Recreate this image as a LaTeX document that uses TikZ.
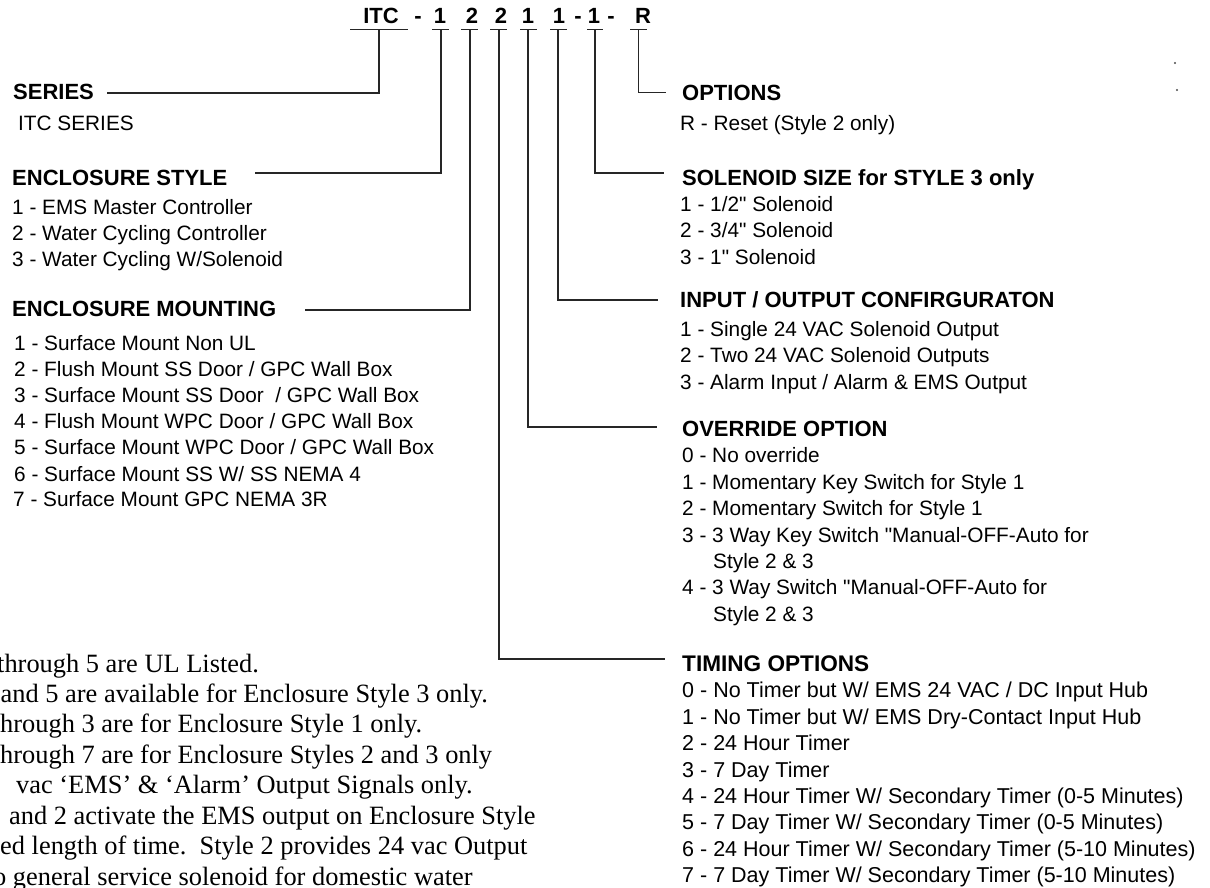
\documentclass[tikz,border=0pt]{standalone}
\usepackage{fontspec}
\setmainfont{Liberation Sans}
\newfontfamily\sansplain{Liberation Sans}
\newfontfamily\serifnote{Liberation Serif}[Ligatures=TeX]
\tikzset{
  conn/.style={line width=1.4pt, draw=black!85, line cap=butt},
  hdr/.style={font=\sansplain\fontsize{22}{26}\selectfont\bfseries, inner sep=0pt, anchor=base},
  ttl/.style={font=\sansplain\fontsize{22}{26}\selectfont\bfseries, inner sep=0pt, anchor=base west},
  itm/.style={font=\sansplain\fontsize{20.8}{26}\selectfont, inner sep=0pt, anchor=base west},
  ttlbig/.style={font=\sansplain\fontsize{22.6}{26}\selectfont\bfseries, inner sep=0pt, anchor=base west},
  itmbig/.style={font=\sansplain\fontsize{21.5}{26}\selectfont, inner sep=0pt, anchor=base west},
  note/.style={font=\serifnote\fontsize{26.4}{30}\selectfont, inner sep=0pt, anchor=base west},
}
\begin{document}
\begin{tikzpicture}[x=1pt, y=-1pt]
\path[use as bounding box, clip] (0,0) rectangle (1210,888);
\fill[white] (0,0) rectangle (1210,888);

% ---------- header code ----------
\node[hdr] (hITC) at (381,23.5) {ITC};
\node[hdr] (hd1)  at (418,23.5) {-};
\node[hdr] (h1)   at (440,23.5) {1};
\node[hdr] (h2)   at (472,23.5) {2};
\node[hdr] (h3)   at (501,23.5) {2};
\node[hdr] (h4)   at (528,23.5) {1};
\node[hdr] (h5)   at (559,23.5) {1};
\node[hdr] (hd2)  at (578,23.5) {-};
\node[hdr] (h6)   at (594,23.5) {1};
\node[hdr] (hd3)  at (611,23.5) {-};
\node[hdr] (h7)   at (643,23.5) {R};

% underline coordinates
\coordinate (a0) at (350,29.5); \coordinate (b0) at (408,29.5);
\coordinate (a1) at (432,29.5); \coordinate (b1) at (449,29.5);
\coordinate (a2) at (461,29.5); \coordinate (b2) at (478,29.5);
\coordinate (a3) at (490,29.5); \coordinate (b3) at (507,29.5);
\coordinate (a4) at (520,29.5); \coordinate (b4) at (537,29.5);
\coordinate (a5) at (550,29.5); \coordinate (b5) at (567,29.5);
\coordinate (a6) at (587,29.5); \coordinate (b6) at (603,29.5);
\coordinate (a7) at (630,29.5); \coordinate (b7) at (647,29.5);
\foreach \i in {0,...,7} { \draw[conn] (a\i) -- (b\i); }

% connector start points (on underlines)
\coordinate (u0) at (379,29.5);
\coordinate (u1) at (441,29.5);
\coordinate (u2) at (470,29.5);
\coordinate (u3) at (499,29.5);
\coordinate (u4) at (528,29.5);
\coordinate (u5) at (558,29.5);
\coordinate (u6) at (595,29.5);
\coordinate (u7) at (638.5,29.5);

% connector end points (next to the titles)
\coordinate (e0) at (107,93);
\coordinate (e1) at (255,173);
\coordinate (e2) at (305,310);
\coordinate (e3) at (665,659);
\coordinate (e4) at (657,427);
\coordinate (e5) at (658,300);
\coordinate (e6) at (664,173);
\coordinate (e7) at (666,92.5);

\foreach \i in {0,...,7} { \draw[conn] (u\i) |- (e\i); }

% ---------- left column ----------
\node[ttl] (tSeries) at (13,100) {SERIES};
\node[itm] (iSeries) at (18,130.5) {ITC SERIES};

\node[ttl] (tStyle) at (12,185) {ENCLOSURE STYLE};
\node[itm] (iStyle1) at (12,214.5) {1 - EMS Master Controller};
\node[itm] (iStyle2) at (12,240.5) {2 - Water Cycling Controller};
\node[itm] (iStyle3) at (12,266.5) {3 - Water Cycling W/Solenoid};

\node[ttl] (tMount) at (12,316) {ENCLOSURE MOUNTING};
\node[itm] (iM1) at (14,350.5) {1 - Surface Mount Non UL};
\node[itm] (iM2) at (14,376.5) {2 - Flush Mount SS Door / GPC Wall Box};
\node[itm] (iM3) at (14,402.5) {3 - Surface Mount SS Door \ / GPC Wall Box};
\node[itm] (iM4) at (14,428.5) {4 - Flush Mount WPC Door / GPC Wall Box};
\node[itm] (iM5) at (14,454.5) {5 - Surface Mount WPC Door / GPC Wall Box};
\node[itm] (iM6) at (14,481) {6 - Surface Mount SS W/ SS NEMA 4};
\node[itm] (iM7) at (13,506.5) {7 - Surface Mount GPC NEMA 3R};

% ---------- right column ----------
\node[ttl] (tOpt) at (682,101) {OPTIONS};
\node[itm] (iOpt) at (680,130.5) {R - Reset (Style 2 only)};

\node[ttl] (tSol) at (682,185) {SOLENOID SIZE for STYLE 3 only};
\node[itm] (iSol1) at (680,211) {1 - 1/2" Solenoid};
\node[itm] (iSol2) at (680,237.5) {2 - 3/4" Solenoid};
\node[itm] (iSol3) at (680,264) {3 - 1" Solenoid};

\node[ttl] (tIO) at (680,307) {INPUT / OUTPUT CONFIRGURATON};
\node[itm] (iIO1) at (680,336) {1 - Single 24 VAC Solenoid Output};
\node[itm] (iIO2) at (680,362.5) {2 - Two 24 VAC Solenoid Outputs};
\node[itm] (iIO3) at (680,389) {3 - Alarm Input / Alarm \& EMS Output};

\node[ttl] (tOvr) at (682,436) {OVERRIDE OPTION};
\node[itm] (iO0) at (682,462.5) {0 - No override};
\node[itm] (iO1) at (682,489) {1 - Momentary Key Switch for Style 1};
\node[itm] (iO2) at (682,515.5) {2 - Momentary Switch for Style 1};
\node[itm] (iO3) at (682,542) {3 - 3 Way Key Switch "Manual-OFF-Auto for};
\node[itm] (iO3b) at (713,568) {Style 2 \& 3};
\node[itm] (iO4) at (682,594.5) {4 - 3 Way Switch "Manual-OFF-Auto for};
\node[itm] (iO4b) at (713,621) {Style 2 \& 3};

\node[ttlbig] (tTim) at (682,671) {TIMING OPTIONS};
\node[itmbig] (iT0) at (682,697.5) {0 - No Timer but W/ EMS 24 VAC / DC Input Hub};
\node[itmbig] (iT1) at (682,724) {1 - No Timer but W/ EMS Dry-Contact Input Hub};
\node[itmbig] (iT2) at (682,750.5) {2 - 24 Hour Timer};
\node[itmbig] (iT3) at (682,777) {3 - 7 Day Timer};
\node[itmbig] (iT4) at (682,803) {4 - 24 Hour Timer W/ Secondary Timer (0-5 Minutes)};
\node[itmbig] (iT5) at (682,829.5) {5 - 7 Day Timer W/ Secondary Timer (0-5 Minutes)};
\node[itmbig] (iT6) at (682,856) {6 - 24 Hour Timer W/ Secondary Timer (5-10 Minutes)};
\node[itmbig] (iT7) at (682,882) {7 - 7 Day Timer W/ Secondary Timer (5-10 Minutes)};

% ---------- footnotes (cut at the left edge, as in the reference) ----------
\node[note] (n1) at (-3,672) {through 5 are UL Listed.};
\node[note] (n2) at (0.5,702) {and 5 are available for Enclosure Style 3 only.};
\node[note] (n3) at (0,732.5) {hrough 3 are for Enclosure Style 1 only.};
\node[note] (n4) at (0,763) {hrough 7 are for Enclosure Styles 2 and 3 only};
\node[note] (n5) at (16,793) {vac ‘EMS’ \& ‘Alarm’ Output Signals only.};
\node[note] (n6) at (9,824) {and 2 activate the EMS output on Enclosure Style};
\node[note] (n7) at (0,854.5) {ed length of time.~~Style 2 provides 24 vac Output};
\node[note] (n8) at (-7,885) {o general service solenoid for domestic water};

% stray dots top right
\fill[black!70] (1175,63) circle (1.1);
\fill[black!70] (1177,90) circle (1.1);
\end{tikzpicture}
\end{document}
